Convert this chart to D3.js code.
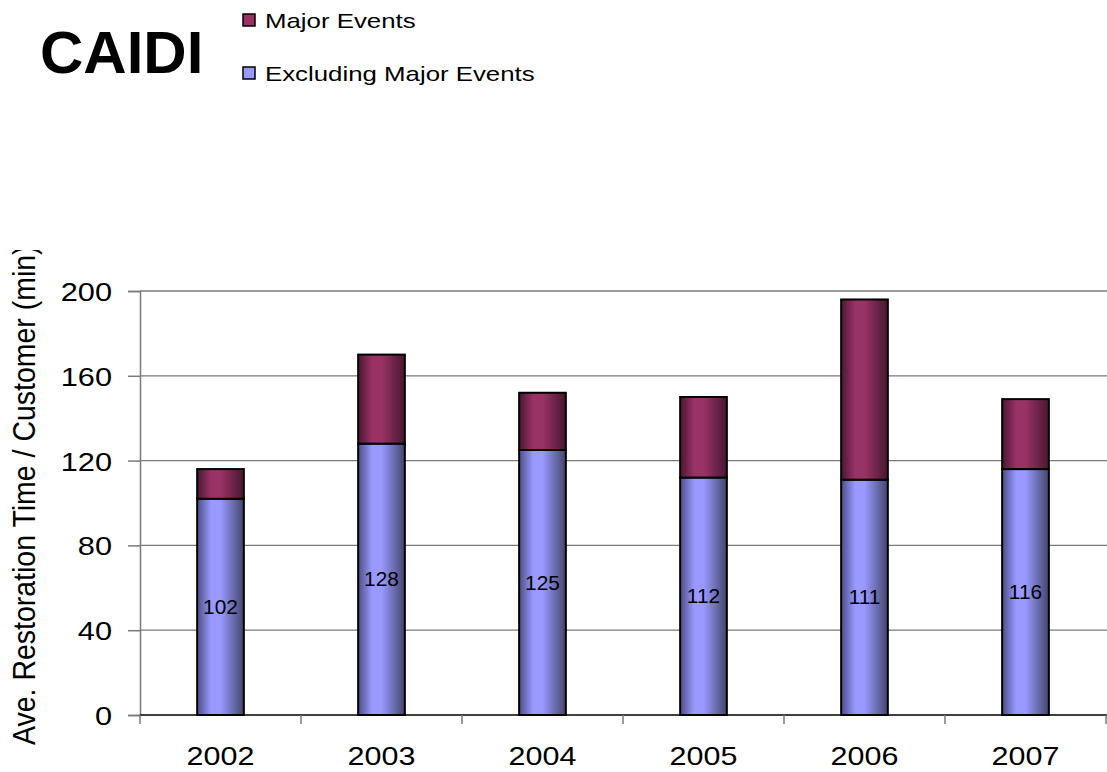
<!DOCTYPE html>
<html>
<head>
<meta charset="utf-8">
<script src="https://cdn.jsdelivr.net/npm/d3@7"></script>
<style>
  html, body { margin: 0; padding: 0; background: #fff; }
  svg { display: block; font-family: Arial, "Liberation Sans", sans-serif; }
</style>
</head>
<body>
<svg id="chart" width="1107" height="772"></svg>
<script>
// CAIDI by year, minutes per customer interruption
const years = ["2002", "2003", "2004", "2005", "2006", "2007"];
const excludingMajor = [102, 128, 125, 112, 111, 116];
const majorEvents = [14, 42, 27, 38, 85, 33];
const yTicks = [0, 40, 80, 120, 160, 200];
const seriesNames = ["Major Events", "Excluding Major Events"];

const svg = d3.select("#chart");
const W = 1107, H = 772;
const margin = { left: 140, right: 1, top: 291, bottom: 57 };
const plotBottom = H - margin.bottom;

const x = d3.scaleBand().domain(years).range([margin.left, W - margin.right])
  .paddingInner(0.71).paddingOuter(0.355);
const xBand = d3.scaleBand().domain(years).range([margin.left, W - margin.right]);
const y = d3.scaleLinear().domain([0, 200]).range([plotBottom, margin.top]);

// Horizontal shading across each bar
const defs = svg.append("defs");
function grad(id, dark, light, dark2) {
  const g = defs.append("linearGradient").attr("id", id)
    .attr("x1", "0%").attr("x2", "100%").attr("y1", "0%").attr("y2", "0%");
  g.append("stop").attr("offset", "0%").attr("stop-color", dark);
  g.append("stop").attr("offset", "30%").attr("stop-color", light);
  g.append("stop").attr("offset", "50%").attr("stop-color", light);
  g.append("stop").attr("offset", "100%").attr("stop-color", dark2);
}
grad("gBlue", "#4e4e86", "#9999ff", "#45456d");
grad("gMaroon", "#4a1830", "#993366", "#48172f");
defs.append("clipPath").attr("id", "labelClip")
  .append("rect").attr("x", 0).attr("y", 250).attr("width", 80).attr("height", 522);

// Gridlines
svg.append("g").selectAll("line").data(yTicks.filter(d => d > 0)).join("line")
  .attr("x1", margin.left).attr("x2", W)
  .attr("y1", d => y(d)).attr("y2", d => y(d))
  .attr("stroke", "#7a7a7a").attr("stroke-width", 1.3);

// Y axis
const yAxis = svg.append("g").attr("transform", `translate(${margin.left},0)`)
  .call(d3.axisLeft(y).tickValues(yTicks).tickSize(12));
yAxis.select(".domain").attr("stroke", "#7a7a7a").attr("stroke-width", 1.5);
yAxis.selectAll(".tick line").attr("stroke", "#7a7a7a").attr("stroke-width", 1.5);
yAxis.selectAll(".tick text")
  .attr("x", 0).attr("dy", "0.36em")
  .attr("transform", "translate(-28,0) scale(1.16,1)")
  .attr("font-size", 26.5).attr("fill", "#000")
  .attr("font-family", "Arial, 'Liberation Sans', sans-serif");

// X axis with ticks at category boundaries
svg.append("line").attr("x1", margin.left).attr("x2", W)
  .attr("y1", plotBottom).attr("y2", plotBottom)
  .attr("stroke", "#000").attr("stroke-width", 1.5);
const boundaries = years.map(d => xBand(d)).concat([xBand(years[years.length - 1]) + xBand.bandwidth()]);
svg.append("g").selectAll("line").data(boundaries).join("line")
  .attr("x1", d => d).attr("x2", d => d)
  .attr("y1", plotBottom).attr("y2", plotBottom + 9)
  .attr("stroke", "#7a7a7a").attr("stroke-width", 1.5);
svg.append("g").selectAll("text").data(years).join("text")
  .attr("transform", d => `translate(${xBand(d) + xBand.bandwidth() / 2},765) scale(1.22,1)`)
  .attr("text-anchor", "middle").attr("font-size", 25).attr("fill", "#000")
  .text(d => d);

// Stacked bars
const rows = years.map((yr, i) => ({ yr, base: excludingMajor[i], major: majorEvents[i] }));
const bars = svg.append("g");
bars.selectAll("rect.base").data(rows).join("rect").attr("class", "base")
  .attr("x", d => x(d.yr)).attr("width", x.bandwidth())
  .attr("y", d => y(d.base)).attr("height", d => y(0) - y(d.base))
  .attr("fill", "url(#gBlue)").attr("stroke", "#000").attr("stroke-width", 2);
bars.selectAll("rect.major").data(rows).join("rect").attr("class", "major")
  .attr("x", d => x(d.yr)).attr("width", x.bandwidth())
  .attr("y", d => y(d.base + d.major)).attr("height", d => y(d.base) - y(d.base + d.major))
  .attr("fill", "url(#gMaroon)").attr("stroke", "#000").attr("stroke-width", 2);

// Value labels centred in the lower segment
bars.selectAll("text").data(rows).join("text")
  .attr("transform", d => `translate(${x(d.yr) + x.bandwidth() / 2},${y(d.base / 2)}) scale(1.07,1)`)
  .attr("dy", "0.36em")
  .attr("text-anchor", "middle").attr("font-size", 19.5).attr("fill", "#000")
  .text(d => d.base);

// Y axis title
svg.append("g").attr("clip-path", "url(#labelClip)")
  .append("text")
  .attr("transform", `translate(35,${plotBottom + 30}) rotate(-90) scale(1,1.1)`)
  .attr("text-anchor", "start").attr("font-size", 28.5).attr("fill", "#000")
  .text("Ave. Restoration Time / Customer (min)");

// Title
svg.append("text").attr("x", 40).attr("y", 73)
  .attr("font-size", 60).attr("font-weight", "bold").attr("fill", "#000")
  .text("CAIDI");

// Legend
const legendSolid = ["#993366", "#9999ff"];
const lg = svg.append("g").selectAll("g").data(seriesNames).join("g")
  .attr("transform", (d, i) => `translate(243,${20 + i * 53})`);
lg.append("rect").attr("x", 0).attr("y", -6).attr("width", 12).attr("height", 12)
  .attr("fill", (d, i) => legendSolid[i]).attr("stroke", "#000").attr("stroke-width", 1.5);
lg.append("text").attr("transform", "translate(22,0) scale(1.23,1)").attr("dy", "0.36em")
  .attr("font-size", 21).attr("fill", "#000").text(d => d);
</script>
</body>
</html>
